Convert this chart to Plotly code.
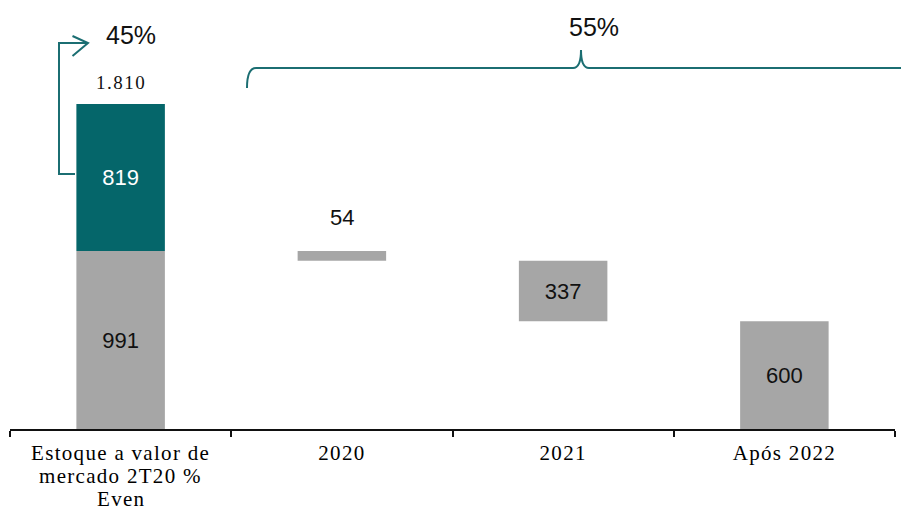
import plotly.graph_objects as go

# ---- data ----
categories = ["Estoque a valor de<br>mercado 2T20 %<br>Even", "2020", "2021", "Após 2022"]
stock_grey = 991          # bottom part of first bar
stock_teal = 819          # top part of first bar
releases = [54, 337, 600] # 2020, 2021, Após 2022
share_left = "45%"
share_right = "55%"

GREY = "#a6a6a6"
TEAL = "#05666a"
LINE = "#1b6e72"
SERIF = "Liberation Serif, Times New Roman, serif"
SANS = "Liberation Sans, Arial, sans-serif"
TICK_SIZE = 21
LABEL_SIZE = 22

total = stock_grey + stock_teal
fmt = lambda v: f"{v:,}".replace(",", ".")
def spaced(s, px_=1.3):
    return f'<span style="letter-spacing:{px_}px">{s}</span>'

# waterfall bases
grey_y = [stock_grey]
grey_base = [0]
level = stock_grey
for v in releases:
    level = level - v
    grey_y.append(v)
    grey_base.append(level)

keys = ["c0", "c1", "c2", "c3"]
grey_text = [fmt(stock_grey), "", fmt(releases[1]), fmt(releases[2])]

fig = go.Figure()
fig.add_trace(go.Bar(
    x=keys, y=grey_y, base=grey_base, width=0.4,
    marker=dict(color=GREY, line=dict(width=0)),
    text=grey_text, textposition="inside", insidetextanchor="middle",
    textfont=dict(family=SANS, size=LABEL_SIZE, color="#111111"),
    hoverinfo="skip", showlegend=False,
))
fig.add_trace(go.Bar(
    x=[keys[0]], y=[stock_teal], base=[stock_grey], width=0.4,
    marker=dict(color=TEAL, line=dict(width=0)),
    text=[fmt(stock_teal)], textposition="inside", insidetextanchor="middle",
    textfont=dict(family=SANS, size=LABEL_SIZE, color="white"),
    hoverinfo="skip", showlegend=False,
))

# pixel helpers for decorative shapes
L, R, T, B, W, H = 10, 6, 0, 82, 901, 511
PW, PH = W - L - R, H - T - B
def px(x): return (x - L) / PW
def py(y): return (H - B - y) / PH

bracket = (f"M {px(247)},{py(88)} Q {px(247)},{py(68)} {px(256)},{py(68)} "
           f"L {px(573)},{py(68)} Q {px(581)},{py(68)} {px(581)},{py(50)} "
           f"Q {px(581)},{py(68)} {px(589)},{py(68)} L {px(905)},{py(68)}")
arrow = (f"M {px(75)},{py(174)} L {px(59)},{py(174)} L {px(59)},{py(43)} L {px(88)},{py(43)}")
head = (f"M {px(72.5)},{py(36)} L {px(88)},{py(43)} L {px(72.5)},{py(56)}")

shapes = [
    dict(type="path", path=bracket, xref="paper", yref="paper", line=dict(color=LINE, width=2)),
    dict(type="path", path=arrow, xref="paper", yref="paper", line=dict(color=LINE, width=2)),
    dict(type="path", path=head, xref="paper", yref="paper", line=dict(color=LINE, width=2)),
]

annotations = [
    dict(x=keys[0], y=total, xref="x", yref="y", yshift=22, showarrow=False,
         xanchor="center", yanchor="middle",
         text=spaced(fmt(total), 1.5), font=dict(family=SERIF, size=19, color="#111111")),
    dict(x=keys[1], y=grey_base[1] + releases[0], xref="x", yref="y", yshift=34, showarrow=False,
         xanchor="center", yanchor="middle",
         text=fmt(releases[0]), font=dict(family=SANS, size=LABEL_SIZE, color="#111111")),
    dict(x=px(131), y=py(35), xref="paper", yref="paper", showarrow=False,
         xanchor="center", yanchor="middle",
         text=share_left, font=dict(family=SANS, size=25, color="#111111")),
    dict(x=px(594), y=py(27), xref="paper", yref="paper", showarrow=False,
         xanchor="center", yanchor="middle",
         text=share_right, font=dict(family=SANS, size=25, color="#111111")),
]

# first category label: tight line spacing -> first line as tick label, others as text lines below
lines0 = categories[0].split("<br>")
ticktext = [spaced(lines0[0])] + [spaced(c) for c in categories[1:]]
for i, ln in enumerate(lines0[1:], start=1):
    annotations.append(dict(
        x=keys[0], y=py(452.5 + 23 * i), xref="x", yref="paper", showarrow=False,
        xanchor="center", yanchor="middle", text=spaced(ln), borderpad=0,
        font=dict(family=SERIF, size=TICK_SIZE, color="#000000")))

fig.update_layout(
    width=W, height=H,
    margin=dict(l=L, r=R, t=T, b=B),
    paper_bgcolor="white", plot_bgcolor="white",
    barmode="overlay",
    shapes=shapes, annotations=annotations,
    xaxis=dict(
        type="category", categoryorder="array", categoryarray=keys,
        tickvals=keys, ticktext=ticktext, range=[-0.5, 3.5],
        showline=True, linecolor="#111111", linewidth=2,
        ticks="outside", tickson="boundaries", ticklen=6, tickwidth=2, tickcolor="#111111",
        tickfont=dict(family=SERIF, size=TICK_SIZE, color="#000000"),
        ticklabelstandoff=4,
        showgrid=False, zeroline=False, fixedrange=True,
    ),
    yaxis=dict(visible=False, range=[0, total * PH / 325], showgrid=False, zeroline=False),
)

fig.write_html("out.html")
